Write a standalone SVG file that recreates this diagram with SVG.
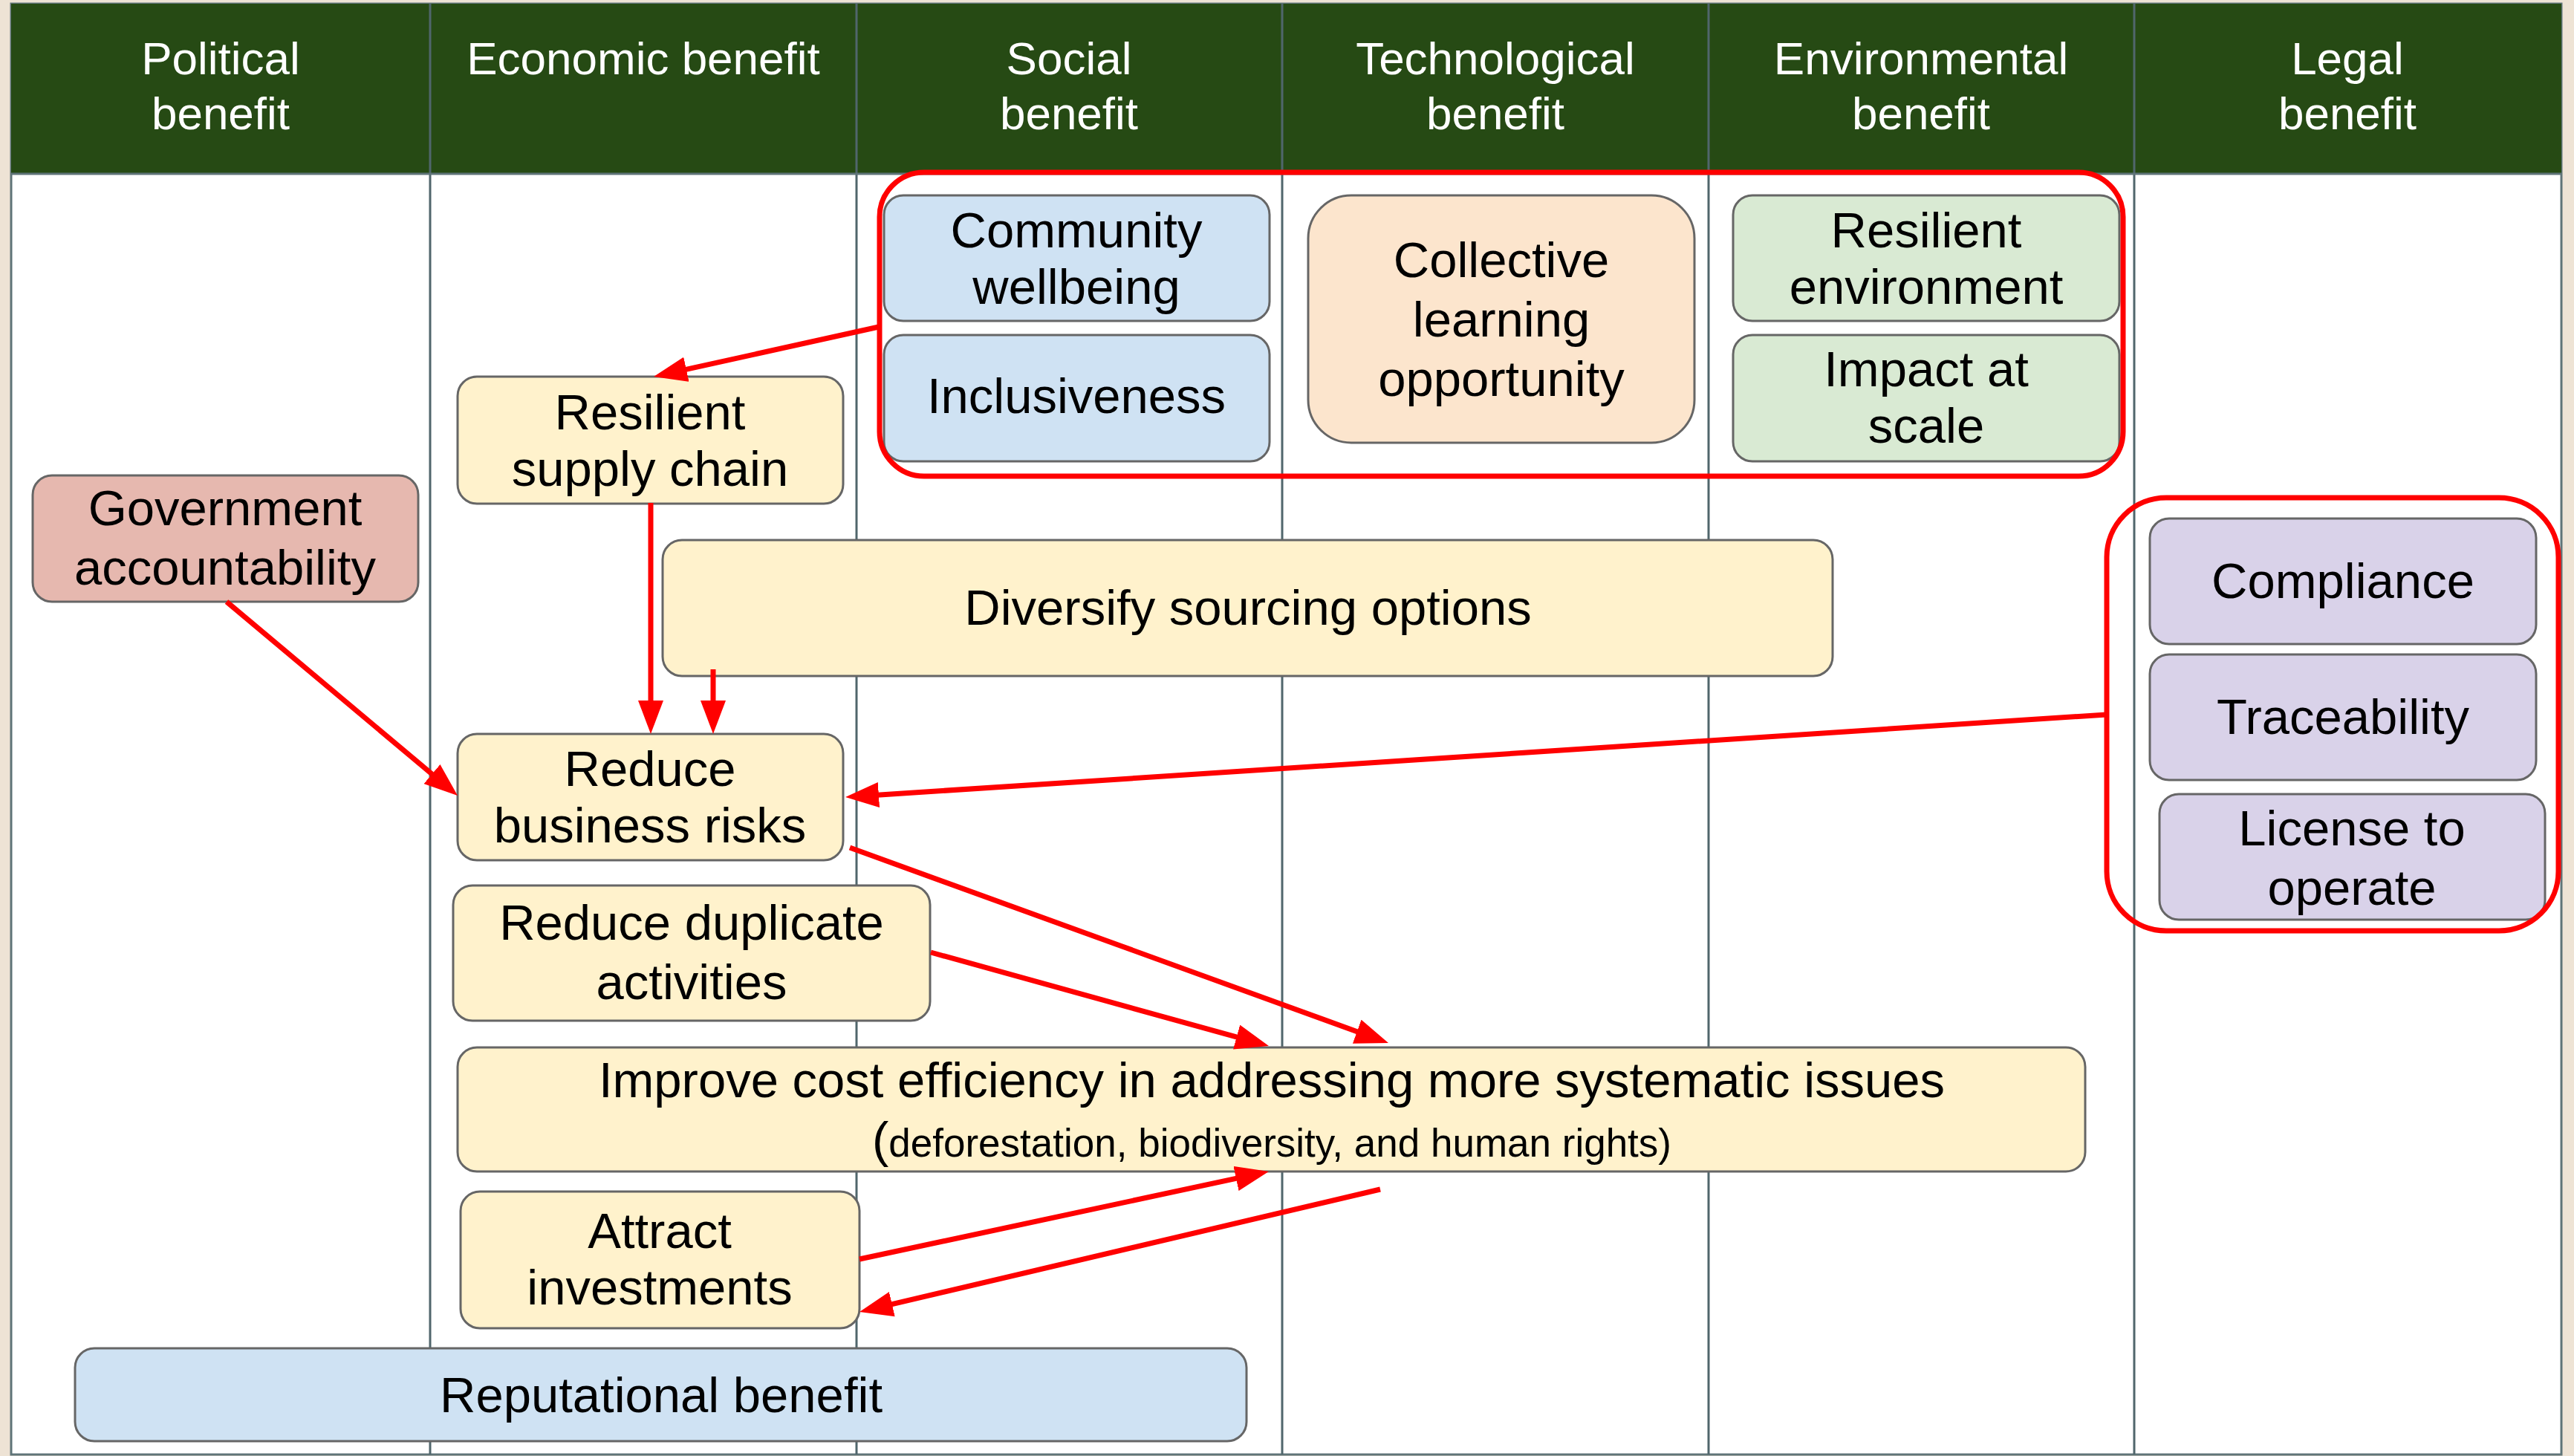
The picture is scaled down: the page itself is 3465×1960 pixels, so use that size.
<svg xmlns="http://www.w3.org/2000/svg" width="3465" height="1960" viewBox="0 0 3465 1960">
<defs>
<style>
.hdr{font-family:"Liberation Sans",Arial,sans-serif;font-size:62px;fill:#ffffff;text-anchor:middle}
.t{font-family:"Liberation Sans",Arial,sans-serif;font-size:67px;fill:#000000;text-anchor:middle}
.box{stroke:#666666;stroke-width:3}
.yel{fill:#FFF2CC}.blu{fill:#CFE2F3}.pch{fill:#FCE5CD}.grn{fill:#D9EAD3}.lav{fill:#D9D2E9}.pnk{fill:#E6B8AF}
.grp{fill:none;stroke:#FF0000;stroke-width:7}
.con{fill:none;stroke:#FF0000;stroke-width:7}
.col{stroke:#50666c;stroke-width:3}
</style>
<marker id="ah" markerUnits="userSpaceOnUse" viewBox="0 0 45 34" markerWidth="45" markerHeight="34" refX="25" refY="17" orient="auto">
<path d="M0,0 L45,17 L0,34 Z" fill="#FF0000"/>
</marker>
</defs>
<rect x="0" y="0" width="3465" height="1960" fill="#EEE3D5"/>
<g id="frame">
<rect x="15" y="5" width="3433" height="1953" fill="#ffffff" stroke="#5f7478" stroke-width="3"/>
<rect x="15" y="5" width="3433" height="229" fill="#264A14"/>
<line class="col" x1="579" y1="5" x2="579" y2="1958"/>
<line class="col" x1="1153" y1="5" x2="1153" y2="1958"/>
<line class="col" x1="1726" y1="5" x2="1726" y2="1958"/>
<line class="col" x1="2300" y1="5" x2="2300" y2="1958"/>
<line class="col" x1="2873" y1="5" x2="2873" y2="1958"/>
<line x1="15" y1="234" x2="3448" y2="234" stroke="#5f7478" stroke-width="3"/>
</g>
<g id="headers">
<text class="hdr" x="297" y="100">Political</text><text class="hdr" x="297" y="174">benefit</text>
<text class="hdr" x="866" y="100">Economic benefit</text>
<text class="hdr" x="1439" y="100">Social</text><text class="hdr" x="1439" y="174">benefit</text>
<text class="hdr" x="2013" y="100">Technological</text><text class="hdr" x="2013" y="174">benefit</text>
<text class="hdr" x="2586" y="100">Environmental</text><text class="hdr" x="2586" y="174">benefit</text>
<text class="hdr" x="3160" y="100">Legal</text><text class="hdr" x="3160" y="174">benefit</text>
</g>
<g id="community-wellbeing"><rect class="box blu" x="1190" y="263" width="519" height="169" rx="26"/>
<text class="t" x="1449" y="333">Community</text><text class="t" x="1449" y="409">wellbeing</text></g>
<g id="inclusiveness"><rect class="box blu" x="1190" y="451" width="519" height="170" rx="26"/>
<text class="t" x="1449" y="556">Inclusiveness</text></g>
<g id="collective-learning"><rect class="box pch" x="1761" y="263" width="520" height="333" rx="58"/>
<text class="t" x="2021" y="373">Collective</text><text class="t" x="2021" y="453">learning</text><text class="t" x="2021" y="533">opportunity</text></g>
<g id="resilient-environment"><rect class="box grn" x="2333" y="263" width="520" height="169" rx="26"/>
<text class="t" x="2593" y="333">Resilient</text><text class="t" x="2593" y="409">environment</text></g>
<g id="impact-at-scale"><rect class="box grn" x="2333" y="451" width="520" height="170" rx="26"/>
<text class="t" x="2593" y="520">Impact at</text><text class="t" x="2593" y="596">scale</text></g>
<g id="resilient-supply-chain"><rect class="box yel" x="616" y="507" width="519" height="171" rx="26"/>
<text class="t" x="875" y="578">Resilient</text><text class="t" x="875" y="654">supply chain</text></g>
<g id="government-accountability"><rect class="box pnk" x="44" y="640" width="519" height="170" rx="26"/>
<text class="t" x="303" y="707">Government</text><text class="t" x="303" y="787">accountability</text></g>
<g id="diversify-sourcing"><rect class="box yel" x="892" y="727" width="1575" height="183" rx="26"/>
<text class="t" x="1680" y="841">Diversify sourcing options</text></g>
<g id="reduce-business-risks"><rect class="box yel" x="616" y="988" width="519" height="170" rx="26"/>
<text class="t" x="875" y="1058">Reduce</text><text class="t" x="875" y="1134">business risks</text></g>
<g id="reduce-duplicate"><rect class="box yel" x="610" y="1192" width="642" height="182" rx="26"/>
<text class="t" x="931" y="1265">Reduce duplicate</text><text class="t" x="931" y="1345">activities</text></g>
<g id="improve-cost-efficiency"><rect class="box yel" x="616" y="1410" width="2191" height="167" rx="26"/>
<text class="t" x="1712" y="1477">Improve cost efficiency in addressing more systematic issues</text>
<text class="t" x="1712" y="1557" style="font-size:53px"><tspan style="font-size:67px">(</tspan>deforestation, biodiversity, and human rights)</text></g>
<g id="attract-investments"><rect class="box yel" x="620" y="1604" width="537" height="184" rx="26"/>
<text class="t" x="888" y="1680">Attract</text><text class="t" x="888" y="1756">investments</text></g>
<g id="reputational-benefit"><rect class="box blu" x="101" y="1815" width="1577" height="125" rx="26"/>
<text class="t" x="890" y="1901">Reputational benefit</text></g>
<g id="compliance"><rect class="box lav" x="2894" y="698" width="520" height="169" rx="26"/>
<text class="t" x="3154" y="805">Compliance</text></g>
<g id="traceability"><rect class="box lav" x="2894" y="881" width="520" height="169" rx="26"/>
<text class="t" x="3154" y="988">Traceability</text></g>
<g id="license-to-operate"><rect class="box lav" x="2907" y="1069" width="519" height="169" rx="26"/>
<text class="t" x="3166" y="1138">License to</text><text class="t" x="3166" y="1218">operate</text></g>
<g id="groups">
<rect class="grp" x="1184" y="232" width="1674" height="409" rx="60"/>
<rect class="grp" x="2836" y="670" width="608" height="583" rx="80"/>
</g>
<g id="connectors">
<line class="con" x1="1183" y1="440" x2="899.5" y2="502.7" marker-end="url(#ah)"/>
<line class="con" x1="876" y1="677" x2="876" y2="968" marker-end="url(#ah)"/>
<line class="con" x1="960" y1="901" x2="960" y2="968" marker-end="url(#ah)"/>
<line class="con" x1="305" y1="810" x2="600.7" y2="1058.1" marker-end="url(#ah)"/>
<line class="con" x1="2836" y1="962" x2="1158" y2="1071.7" marker-end="url(#ah)"/>
<line class="con" x1="1144" y1="1141" x2="1850.2" y2="1397.2" marker-end="url(#ah)"/>
<line class="con" x1="1253" y1="1282" x2="1688.7" y2="1402.7" marker-end="url(#ah)"/>
<line class="con" x1="1157" y1="1695" x2="1688.4" y2="1581.2" marker-end="url(#ah)"/>
<line class="con" x1="1858" y1="1601" x2="1176.5" y2="1761.4" marker-end="url(#ah)"/>
</g>
</svg>
